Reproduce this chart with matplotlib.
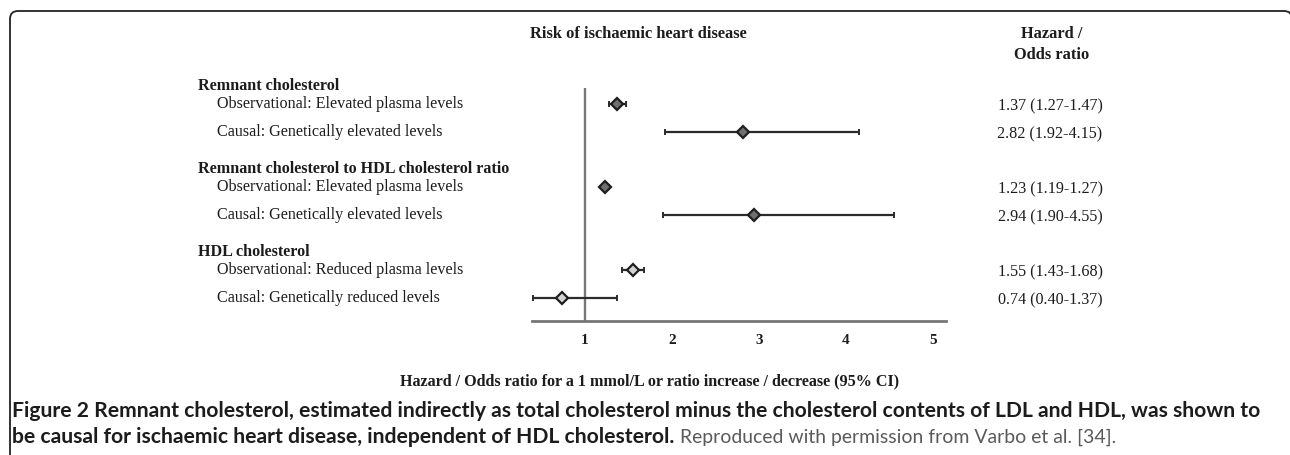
import matplotlib
matplotlib.use("Agg")
import matplotlib.pyplot as plt
from matplotlib.path import Path
from matplotlib.patches import PathPatch
from matplotlib.transforms import blended_transform_factory, IdentityTransform

# ---------------- data ----------------
groups = ["Remnant cholesterol",
          "Remnant cholesterol to HDL cholesterol ratio",
          "HDL cholesterol"]
row_labels = ["Observational: Elevated plasma levels",
              "Causal: Genetically elevated levels",
              "Observational: Elevated plasma levels",
              "Causal: Genetically elevated levels",
              "Observational: Reduced plasma levels",
              "Causal: Genetically reduced levels"]
row_group = [0, 0, 1, 1, 2, 2]
estimates = [1.37, 2.82, 1.23, 2.94, 1.55, 0.74]
ci_low = [1.27, 1.92, 1.19, 1.90, 1.43, 0.40]
ci_high = [1.47, 4.15, 1.27, 4.55, 1.68, 1.37]
xticks = [1, 2, 3, 4, 5]
title = "Risk of ischaemic heart disease"
col_header = ["Hazard /", "Odds ratio"]
xlabel = "Hazard / Odds ratio for a 1 mmol/L or ratio increase / decrease (95% CI)"
cap_line1 = ("Figure 2 Remnant cholesterol, estimated indirectly as total cholesterol minus "
             "the cholesterol contents of LDL and HDL, was shown to")
cap_line2_bold = "be causal for ischaemic heart disease, independent of HDL cholesterol."
cap_line2_plain = "Reproduced with permission from Varbo et al. [34]."

# ---------------- layout ----------------
W, H = 1290, 455
fig = plt.figure(figsize=(W / 100, H / 100), dpi=100)
fig.patch.set_facecolor("white")


def fx(x):
    return x / W


def fy(y):
    return 1 - y / H


SERIF = "Liberation Serif"
TXT = "#1c1c1c"
LAB = 11.6

ax = fig.add_axes([fx(532), fy(321), fx(946) - fx(532), fy(88) - fy(321)])
ax.set_xlim(0.39, 5.15)
ax.set_ylim(321, 88)  # y measured in pixel rows from the top

# row positions (layout)
row_y = []
for i, g in enumerate(row_group):
    k = i - row_group.index(g)
    row_y.append(104 + 83 * g + 28 * k)
header_y = [104 + 83 * g - 18 for g in range(len(groups))]

fills = ["#6f6f6f" if g < 2 else "#d3d3d3" for g in row_group]

ax.axvline(1, color="#777777", lw=1.7, zorder=1)
for i in range(len(estimates)):
    ax.errorbar([estimates[i]], [row_y[i]],
                xerr=[[estimates[i] - ci_low[i]], [ci_high[i] - estimates[i]]],
                fmt="none", ecolor="#2b2b2b", elinewidth=1.6, capsize=2.3,
                capthick=1.4, zorder=2)
    ax.plot([estimates[i]], [row_y[i]], marker="D", ms=6.4, mfc=fills[i],
            mec="#1e1e1e", mew=1.6, ls="none", zorder=3)

for s in ["top", "right", "left"]:
    ax.spines[s].set_visible(False)
ax.spines["bottom"].set_color("#777777")
ax.spines["bottom"].set_linewidth(2.0)
ax.set_yticks([])
ax.set_xticks(xticks)
ax.set_xticklabels([str(t) for t in xticks], family=SERIF, fontweight="bold",
                   fontsize=11, color=TXT)
ax.tick_params(axis="x", length=0, pad=9)
ax.patch.set_alpha(0)

trans = blended_transform_factory(fig.transFigure, ax.transData)

# left labels
for g, name in enumerate(groups):
    fig.text(fx(198), header_y[g], name, transform=trans, family=SERIF,
             fontweight="bold", fontsize=LAB, va="center", ha="left", color=TXT)
for i, lab in enumerate(row_labels):
    fig.text(fx(217), row_y[i], lab, transform=trans, family=SERIF,
             fontsize=LAB, va="center", ha="left", color=TXT)

# right value column
for i in range(len(estimates)):
    txt = f"{estimates[i]:.2f} ({ci_low[i]:.2f}-{ci_high[i]:.2f})"
    fig.text(fx(1050), row_y[i] + 2, txt, transform=trans, family=SERIF,
             fontsize=LAB, va="center", ha="center", color=TXT)

# headers
fig.text(fx(638), fy(34), title, family=SERIF, fontweight="bold", fontsize=11.8,
         ha="center", va="center", color=TXT)
fig.text(fx(1052), fy(34), col_header[0], family=SERIF, fontweight="bold",
         fontsize=11.8, ha="center", va="center", color=TXT)
fig.text(fx(1052), fy(55), col_header[1], family=SERIF, fontweight="bold",
         fontsize=11.8, ha="center", va="center", color=TXT)
fig.text(fx(650), fy(381), xlabel, family=SERIF, fontweight="bold", fontsize=11.6,
         ha="center", va="center", color=TXT)

# frame (rounded top-left corner, clipped at right)
top = H - 11
r = 8
verts = [(10, -5), (10, top - r), (10, top), (10 + r, top), (1284, top),
         (1292, top), (1292, top - r)]
codes = [Path.MOVETO, Path.LINETO, Path.CURVE3, Path.CURVE3, Path.LINETO,
         Path.CURVE3, Path.CURVE3]
frame = PathPatch(Path(verts, codes), transform=IdentityTransform(), fill=False,
                  edgecolor="#222222", lw=1.3)
fig.patches.append(frame)
frame.set_figure(fig)

# caption (font size fitted so line 1 spans the measured width)
CAP = "Lato"
size = 12.0
target = 1250
t1 = fig.text(fx(12), fy(411), cap_line1, family=CAP, fontweight="bold",
              fontsize=size, va="center", ha="left", color=TXT)
for _ in range(4):
    fig.canvas.draw()
    w1 = t1.get_window_extent().width
    size = size * (target / w1)
    t1.set_fontsize(size)
fig.canvas.draw()
t2 = fig.text(fx(12), fy(437), cap_line2_bold, family=CAP, fontweight="bold",
              fontsize=size, va="center", ha="left", color=TXT)
fig.canvas.draw()
bb = t2.get_window_extent()
fig.text((bb.x1 + 6) / W, fy(437), cap_line2_plain, family=CAP,
         fontsize=size * 0.92, va="center", ha="left", color="#5a5a5a")

fig.savefig("out.png", dpi=100)
